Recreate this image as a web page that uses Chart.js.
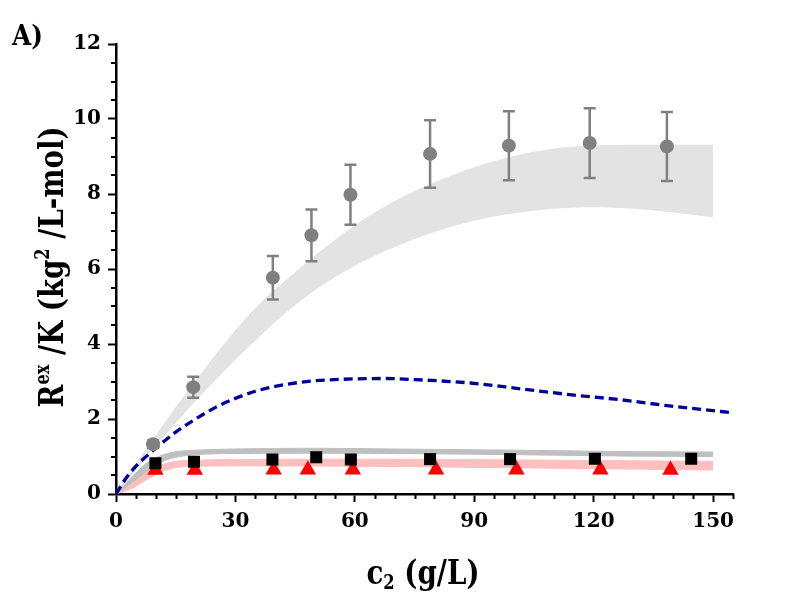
<!DOCTYPE html>
<html>
<head>
<meta charset="utf-8">
<script src="https://cdn.jsdelivr.net/npm/chart.js@4/dist/chart.umd.min.js"></script>
<style>
  body { margin: 0; background: #fff; }
  canvas { display: block; }
</style>
</head>
<body>
<canvas id="chart" width="800" height="606"></canvas>
<script>
// axis ticks
const xTicks = [0, 30, 60, 90, 120, 150];
const yTicks = [0, 2, 4, 6, 8, 10, 12];

// gray circles (with error bars)
const circleX = [9.3, 19.4, 39.4, 49.1, 58.9, 78.9, 98.7, 119.0, 138.4];
const circleY = [1.33, 2.85, 5.77, 6.9, 7.98, 9.07, 9.29, 9.36, 9.27];
const circleErr = [0.1, 0.28, 0.58, 0.69, 0.8, 0.9, 0.92, 0.93, 0.92];

// black squares
const squareX = [9.9, 19.6, 39.3, 50.3, 59.0, 78.9, 99.0, 120.3, 144.5];
const squareY = [0.82, 0.86, 0.92, 0.98, 0.92, 0.93, 0.93, 0.94, 0.94];

// red triangles
const triangleX = [9.9, 19.8, 39.6, 48.2, 59.5, 80.4, 100.6, 121.7, 139.3];
const triangleY = [0.64, 0.64, 0.65, 0.65, 0.65, 0.65, 0.65, 0.65, 0.64];

// blue dashed curve
const blueX = [0, 2.5, 5, 10, 15, 20, 25, 30, 35, 40, 45, 50, 60, 67, 77, 89, 102, 114, 127, 139, 152, 155];
const blueY = [0, 0.42, 0.74, 1.22, 1.65, 2.0, 2.31, 2.55, 2.74, 2.87, 2.96, 3.02, 3.07, 3.08, 3.04, 2.96, 2.8, 2.65, 2.51, 2.35, 2.2, 2.16];

// wide light gray band
const wideX = [0, 5, 10, 15, 20, 25, 30, 35, 40, 45, 50, 60, 70, 80, 90, 100, 110, 120, 130, 140, 150];
const wideUpper = [0, 0.8, 1.55, 2.3, 3.0, 3.7, 4.35, 4.95, 5.45, 5.9, 6.35, 7.15, 7.8, 8.3, 8.7, 9.0, 9.2, 9.28, 9.3, 9.3, 9.3];
const wideLower = [0, 0.65, 1.3, 1.9, 2.5, 3.05, 3.6, 4.1, 4.6, 5.05, 5.45, 6.1, 6.6, 7.0, 7.3, 7.5, 7.62, 7.66, 7.62, 7.52, 7.39];

// narrow gray band
const grayX = [0, 4, 8, 12, 16, 20, 30, 50, 70, 100, 130, 150];
const grayUpper = [0, 0.45, 0.85, 1.05, 1.14, 1.17, 1.2, 1.22, 1.2, 1.17, 1.13, 1.12];
const grayLower = [0, 0.3, 0.62, 0.88, 1.0, 1.05, 1.08, 1.09, 1.08, 1.05, 1.01, 1.0];

// pink band
const pinkX = [0, 4, 8, 12, 16, 20, 30, 60, 100, 150];
const pinkUpper = [0, 0.3, 0.6, 0.8, 0.88, 0.9, 0.92, 0.93, 0.91, 0.87];
const pinkLower = [0, 0.15, 0.4, 0.62, 0.72, 0.74, 0.75, 0.74, 0.7, 0.64];

const pts = (xs, ys) => xs.map((x, i) => ({ x: x, y: ys[i] }));
const serif = "'DejaVu Serif', serif";

function bandLine(xs, ys, color, fill) {
  return {
    data: pts(xs, ys),
    showLine: true,
    borderColor: color,
    backgroundColor: color,
    borderWidth: 1,
    pointRadius: 0,
    cubicInterpolationMode: "monotone",
    fill: fill,
  };
}

// draws text pieces with superscript / subscript, squeezed to a width
function richText(ctx, parts, size, x, y, width, align) {
  const fontOf = (p) => "bold " + Math.round(size * (p.small ? 0.58 : 1)) + "px " + serif;
  let total = 0;
  parts.forEach((p) => {
    ctx.font = fontOf(p);
    p.w = ctx.measureText(p.t).width;
    total += p.w;
  });
  const k = width / total;
  ctx.save();
  ctx.translate(x, y);
  ctx.scale(k, 1);
  let cx = align === "center" ? -total / 2 : 0;
  ctx.textBaseline = "alphabetic";
  ctx.textAlign = "left";
  ctx.fillStyle = "#000";
  parts.forEach((p) => {
    ctx.font = fontOf(p);
    ctx.fillText(p.t, cx, p.dy || 0);
    cx += p.w;
  });
  ctx.restore();
}

const decorations = {
  id: "decorations",
  afterDatasetsDraw(chart) {
    const ctx = chart.ctx;
    const xs = chart.scales.x;
    const ys = chart.scales.y;
    ctx.save();
    ctx.strokeStyle = "#808080";
    ctx.lineWidth = 2.5;
    circleX.forEach((cx, i) => {
      const px = xs.getPixelForValue(cx);
      const top = ys.getPixelForValue(circleY[i] + circleErr[i]);
      const bot = ys.getPixelForValue(circleY[i] - circleErr[i]);
      ctx.beginPath();
      ctx.moveTo(px, top);
      ctx.lineTo(px, bot);
      ctx.moveTo(px - 6, top);
      ctx.lineTo(px + 6, top);
      ctx.moveTo(px - 6, bot);
      ctx.lineTo(px + 6, bot);
      ctx.stroke();
    });
    ctx.restore();
  },
  afterDraw(chart) {
    const ctx = chart.ctx;
    const xs = chart.scales.x;
    const ys = chart.scales.y;
    const area = chart.chartArea;
    ctx.save();
    // minor ticks
    ctx.strokeStyle = "#000";
    ctx.lineWidth = 2;
    ctx.beginPath();
    for (let v = 0; v <= 155; v += 5) {
      if (v % 30 === 0) continue;
      const px = Math.round(xs.getPixelForValue(v)) + 0.5;
      ctx.moveTo(px, area.bottom);
      ctx.lineTo(px, area.bottom + 5);
    }
    for (let v = 0.5; v < 12; v += 0.5) {
      if (v % 2 === 0) continue;
      const py = Math.round(ys.getPixelForValue(v));
      ctx.moveTo(area.left, py);
      ctx.lineTo(area.left - 5, py);
    }
    ctx.stroke();
    ctx.restore();

    // panel label
    richText(ctx, [{ t: "A)" }], 27, 12, 45, 31, "left");

    // x title
    richText(ctx, [
      { t: "c" },
      { t: "2", small: true, dy: 5 },
      { t: " (g/L)" },
    ], 34, 423, 584, 113, "center");

    // y title
    ctx.save();
    ctx.translate(63, 267);
    ctx.rotate(-Math.PI / 2);
    richText(ctx, [
      { t: "R" },
      { t: "ex", small: true, dy: -14 },
      { t: " /K (kg" },
      { t: "2", small: true, dy: -14 },
      { t: " /L-mol)" },
    ], 34, 0, 0, 281, "center");
    ctx.restore();
  },
};

const tickFont = { family: serif, size: 20, weight: "bold" };

new Chart(document.getElementById("chart"), {
  type: "scatter",
  data: {
    datasets: [
      {
        data: pts(circleX, circleY),
        pointStyle: "circle",
        pointRadius: 7,
        backgroundColor: "#808080",
        borderWidth: 0,
      },
      {
        data: pts(squareX, squareY),
        pointStyle: "rect",
        pointRadius: 8.5,
        backgroundColor: "#000",
        borderWidth: 0,
      },
      {
        data: pts(triangleX, triangleY),
        pointStyle: "triangle",
        pointRadius: 9.5,
        backgroundColor: "#ff0000",
        borderWidth: 0,
      },
      {
        data: pts(blueX, blueY),
        showLine: true,
        borderColor: "#00009c",
        borderWidth: 3.3,
        borderDash: [9, 5],
        pointRadius: 0,
        cubicInterpolationMode: "monotone",
      },
      bandLine(grayX, grayLower, "#bfbfbf", false),
      bandLine(grayX, grayUpper, "#bfbfbf", "-1"),
      bandLine(pinkX, pinkLower, "#ffbfbf", false),
      bandLine(pinkX, pinkUpper, "#ffbfbf", "-1"),
      bandLine(wideX, wideLower, "#e3e3e3", false),
      bandLine(wideX, wideUpper, "#e3e3e3", "-1"),
    ],
  },
  options: {
    responsive: false,
    animation: false,
    layout: { padding: { top: 44, right: 67, left: 0, bottom: 0 } },
    plugins: { legend: { display: false }, tooltip: { enabled: false } },
    scales: {
      x: {
        type: "linear",
        min: 0,
        max: 155,
        afterBuildTicks: (s) => { s.ticks = xTicks.map((v) => ({ value: v })); },
        afterFit: (s) => { s.height = 112; },
        ticks: { font: tickFont, color: "#000", padding: 8, maxRotation: 0 },
        border: { color: "#000", width: 2.5 },
        grid: { drawOnChartArea: false, tickLength: 8, tickWidth: 2, tickColor: "#000" },
      },
      y: {
        type: "linear",
        min: 0,
        max: 12,
        afterBuildTicks: (s) => { s.ticks = yTicks.map((v) => ({ value: v })); },
        afterFit: (s) => { s.width = 116; },
        ticks: { font: tickFont, color: "#000", padding: 7 },
        border: { color: "#000", width: 2.5 },
        grid: { drawOnChartArea: false, tickLength: 8, tickWidth: 2, tickColor: "#000" },
      },
    },
  },
  plugins: [decorations],
});
</script>
</body>
</html>
